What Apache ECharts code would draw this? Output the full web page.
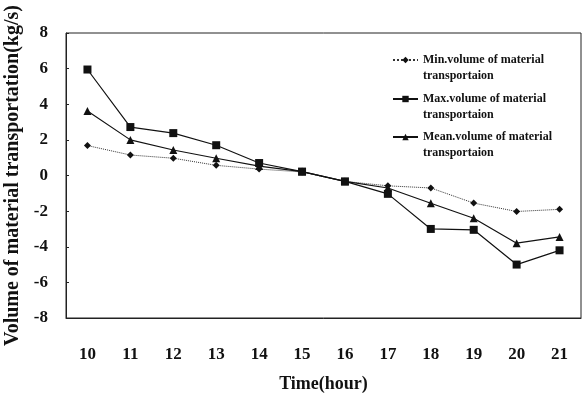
<!DOCTYPE html>
<html><head><meta charset="utf-8">
<script src="https://cdn.jsdelivr.net/npm/echarts@6/dist/echarts.min.js"></script>
<style>html,body{margin:0;padding:0;background:#fff}#c{width:583px;height:399px}</style>
</head><body><div id="c"></div>
<script>
const categories = ['10','11','12','13','14','15','16','17','18','19','20','21'];
const minValues  = [1.68, 1.15, 0.97, 0.57, 0.36, 0.2, -0.33, -0.58, -0.7, -1.55, -2.02, -1.9];
const maxValues  = [5.95, 2.72, 2.38, 1.7, 0.7, 0.22, -0.33, -1.03, -3.0, -3.05, -5.0, -4.2];
const meanValues = [3.62, 2.0, 1.43, 0.97, 0.53, 0.22, -0.33, -0.7, -1.56, -2.4, -3.8, -3.45];
const seriesNames = ['Min.volume of material\ntransportaion','Max.volume of material\ntransportaion','Mean.volume of material\ntransportaion'];
const yTicks = {min: -8, max: 8, interval: 2};

const font = 'Liberation Serif';
const chart = echarts.init(document.getElementById('c'));
function legendAt(name, top) {
  return {
    data: [name], left: 392, top: top, padding: 0, itemWidth: 25, itemHeight: 8,
    formatter: n => ' \n' + n,
    textStyle: {fontFamily: font, fontSize: 12, fontWeight: 'bold', color: '#111', lineHeight: 16}
  };
}
chart.setOption({
  animation: false,
  backgroundColor: '#fff',
  grid: {left: 66, top: 33, width: 515, height: 285, show: true, borderColor: '#222', borderWidth: 1, outerBoundsMode: 'none', containLabel: false},
  legend: [legendAt(seriesNames[0], 36), legendAt(seriesNames[1], 75), legendAt(seriesNames[2], 113)],
  xAxis: {
    type: 'category', data: categories, boundaryGap: true,
    name: 'Time(hour)', nameLocation: 'middle', nameGap: 57,
    nameTextStyle: {fontFamily: font, fontSize: 18, fontWeight: 'bold', color: '#111'},
    axisLine: {onZero: false, lineStyle: {color: '#222'}}, axisTick: {show: false},
    axisLabel: {fontFamily: font, fontSize: 17, fontWeight: 'bold', color: '#111', margin: 28}
  },
  yAxis: {
    type: 'value', min: yTicks.min, max: yTicks.max, interval: yTicks.interval,
    name: 'Volume of material transportation(kg/s)', nameLocation: 'middle', nameGap: 38,
    nameTextStyle: {fontFamily: font, fontSize: 20, fontWeight: 'bold', color: '#111'},
    axisLine: {show: true, lineStyle: {color: '#222'}},
    axisTick: {show: true, inside: true, length: 3, lineStyle: {color: '#222'}},
    splitLine: {show: false},
    axisLabel: {fontFamily: font, fontSize: 17, fontWeight: 'bold', color: '#111', margin: 18}
  },
  series: [
    {name: seriesNames[0], type: 'line', data: minValues, symbol: 'diamond', symbolSize: 7,
     itemStyle: {color: '#111'}, lineStyle: {color: '#333', width: 1, type: 'dotted'}},
    {name: seriesNames[1], type: 'line', data: maxValues, symbol: 'rect', symbolSize: 8,
     itemStyle: {color: '#111'}, lineStyle: {color: '#111', width: 1.2}},
    {name: seriesNames[2], type: 'line', data: meanValues, symbol: 'triangle', symbolSize: 8,
     itemStyle: {color: '#111'}, lineStyle: {color: '#111', width: 1.2}}
  ]
});
</script></body></html>
